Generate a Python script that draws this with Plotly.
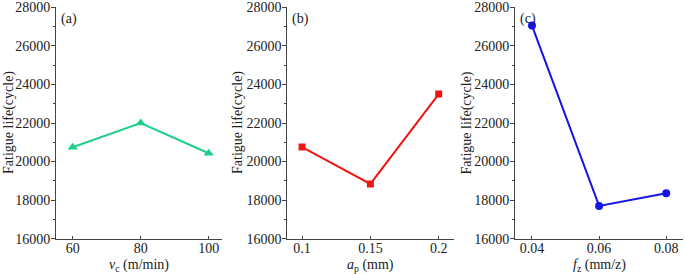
import plotly.graph_objects as go

vc = [60, 80, 100]
life_vc = [20740, 22000, 20430]
ap = [0.1, 0.15, 0.2]
life_ap = [20750, 18840, 23500]
fz = [0.04, 0.06, 0.08]
life_fz = [27050, 17700, 18360]

y_ticks = [16000, 18000, 20000, 22000, 24000, 26000, 28000]
y_ticktext = ["16000", "18000", "20000", "22000", "24000", "26000", "28000"]
vc_ticks = ["60", "80", "100"]
ap_ticks = ["0.1", "0.15", "0.2"]
fz_ticks = ["0.04", "0.06", "0.08"]

W, H = 685, 274
FONT = "Liberation Serif, Times New Roman, Times, serif"
TXT = "#222222"

fig = go.Figure()
fig.add_trace(go.Scatter(x=vc, y=life_vc, mode="lines+markers", xaxis="x", yaxis="y",
                         line=dict(color="#1ecf8a", width=2),
                         marker=dict(symbol="triangle-up", size=9, color="#1ecf8a")))
fig.add_trace(go.Scatter(x=ap, y=life_ap, mode="lines+markers", xaxis="x2", yaxis="y2",
                         line=dict(color="#f01515", width=2),
                         marker=dict(symbol="square", size=7, color="#f01515")))
fig.add_trace(go.Scatter(x=fz, y=life_fz, mode="lines+markers", xaxis="x3", yaxis="y3",
                         line=dict(color="#1414e8", width=2),
                         marker=dict(symbol="circle", size=8, color="#1414e8")))

ydom = [1 - 238.7 / H, 1 - 7.3 / H]
xdoms = [[56 / W, 222 / W], [287.3 / W, 454 / W], [515 / W, 683 / W]]
xranges = [[55.1, 103.9], [0.0892, 0.2112], [0.03494, 0.085]]
xticks = [(vc, vc_ticks), (ap, ap_ticks), (fz, fz_ticks)]
xtitles = ["<i>v</i><sub>c</sub> (m/min)", "<i>a</i><sub>p</sub> (mm)", "<i>f</i><sub>z</sub> (mm/z)"]
labels = ["(a)", "(b)", "(c)"]
ytitle_x = [9, 238, 466.5]

axcol = "#444444"
layout = dict(
    width=W, height=H, margin=dict(l=0, r=0, t=0, b=0, autoexpand=False),
    paper_bgcolor="white", plot_bgcolor="white", showlegend=False,
    font=dict(family=FONT, size=14, color=TXT),
)
annotations = []
for i in range(3):
    sx = "" if i == 0 else str(i + 1)
    layout["xaxis" + sx] = dict(
        domain=xdoms[i], range=xranges[i], anchor="y" + sx, automargin=False,
        tickmode="array", tickvals=xticks[i][0], ticktext=xticks[i][1],
        showgrid=False, zeroline=False, showline=True, linecolor=axcol, linewidth=1,
        ticks="inside", ticklen=3, tickcolor=axcol, ticklabelstandoff=-4,
        tickfont=dict(family=FONT, size=14, color=TXT),
    )
    layout["yaxis" + sx] = dict(
        domain=ydom, range=[16000, 28000], anchor="x" + sx, automargin=False,
        tickmode="array", tickvals=y_ticks, ticktext=y_ticktext,
        showgrid=False, zeroline=False, showline=True, linecolor=axcol, linewidth=1,
        ticks="outside", ticklen=4, tickcolor=axcol, ticklabelstandoff=-2,
        minor=dict(ticks="outside", ticklen=2, dtick=1000, tickcolor=axcol),
        tickfont=dict(family=FONT, size=14, color=TXT),
    )
    # x-axis title
    annotations.append(dict(text=xtitles[i], x=(xdoms[i][0] + xdoms[i][1]) / 2, y=1 - 265 / H,
                            xref="paper", yref="paper", xanchor="center", yanchor="middle",
                            showarrow=False, font=dict(family=FONT, size=14, color=TXT)))
    # y-axis title
    annotations.append(dict(text="Fatigue life(cycle)", x=ytitle_x[i] / W, y=(ydom[0] + ydom[1]) / 2,
                            xref="paper", yref="paper", xanchor="center", yanchor="middle",
                            textangle=-90, showarrow=False,
                            font=dict(family=FONT, size=14, color=TXT)))
    # panel label
    annotations.append(dict(text=labels[i], x=xdoms[i][0] + 3 / W, y=ydom[1] - 2 / H,
                            xref="paper", yref="paper", xanchor="left", yanchor="top",
                            showarrow=False, font=dict(family=FONT, size=14, color=TXT)))
layout["annotations"] = annotations
fig.update_layout(**layout)
fig.write_html("out.html", config={"displayModeBar": False},
               post_script="document.body.style.margin='0';document.body.style.overflow='hidden';")
